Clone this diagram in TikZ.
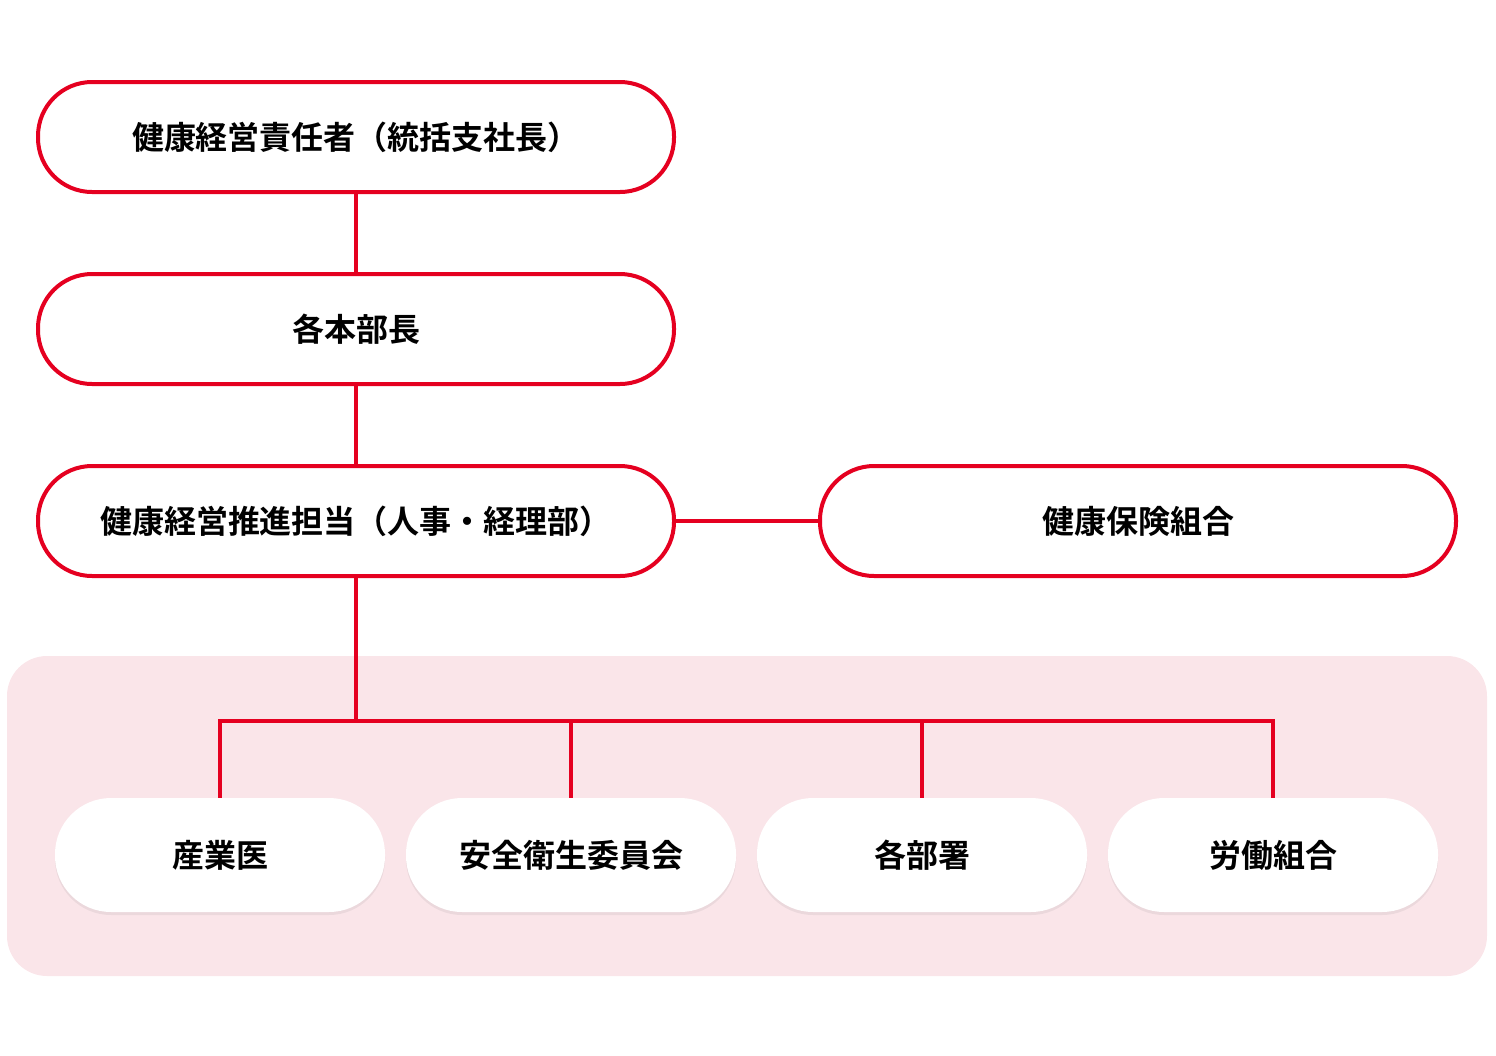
\documentclass[tikz,border=0pt]{standalone}
\usepackage{fontspec}
\setmainfont{Noto Sans CJK JP}[BoldFont={* Bold}]
\usetikzlibrary{shadows}
\definecolor{kred}{HTML}{E50020}
\definecolor{kpink}{HTML}{FAE5E9}
\begin{document}
\begin{tikzpicture}[x=0.5pt,y=-0.5pt]
    \tikzstyle{RoleStyle}=[draw         = kred,
                           line width   = 2pt,
                           fill         = white,
                           rounded corners = 27pt,
                           minimum width  = 318pt,
                           minimum height = 55pt,
                           font         = \bfseries\fontsize{16}{18}\selectfont]
    \tikzstyle{UnitStyle}=[fill         = white,
                           rounded corners = 28pt,
                           minimum width  = 165pt,
                           minimum height = 57pt,
                           drop shadow  = {opacity=0.12, shadow xshift=0pt, shadow yshift=-1.5pt},
                           font         = \bfseries\fontsize{16}{18}\selectfont]
    \tikzstyle{LinkStyle}=[draw = kred, line width = 2pt]
    \useasboundingbox (0,0) rectangle (1496,1056);
    \fill[kpink, rounded corners=20pt] (7,656) rectangle (1487,976);
    \node[RoleStyle] (chief)  at (356,137) {健康経営責任者（統括支社長）};
    \node[RoleStyle] (heads)  at (356,329) {各本部長};
    \node[RoleStyle] (promo)  at (356,521) {健康経営推進担当（人事・経理部）};
    \node[RoleStyle] (kenpo)  at (1138,521) {健康保険組合};
    \coordinate (hub) at (356,721);
    \foreach \x/\name/\txt in {220/doctor/産業医, 571/safety/安全衛生委員会,
                               922/depts/各部署, 1273/union/労働組合}{
        \node[UnitStyle] (\name) at (\x,855) {\txt};
        \draw[LinkStyle] (\name.north) |- (hub);
    }
    \draw[LinkStyle] (chief) -- (heads);
    \draw[LinkStyle] (heads) -- (promo);
    \draw[LinkStyle] (promo) -- (kenpo);
    \draw[LinkStyle] (promo) -- (hub);
\end{tikzpicture}
\end{document}
